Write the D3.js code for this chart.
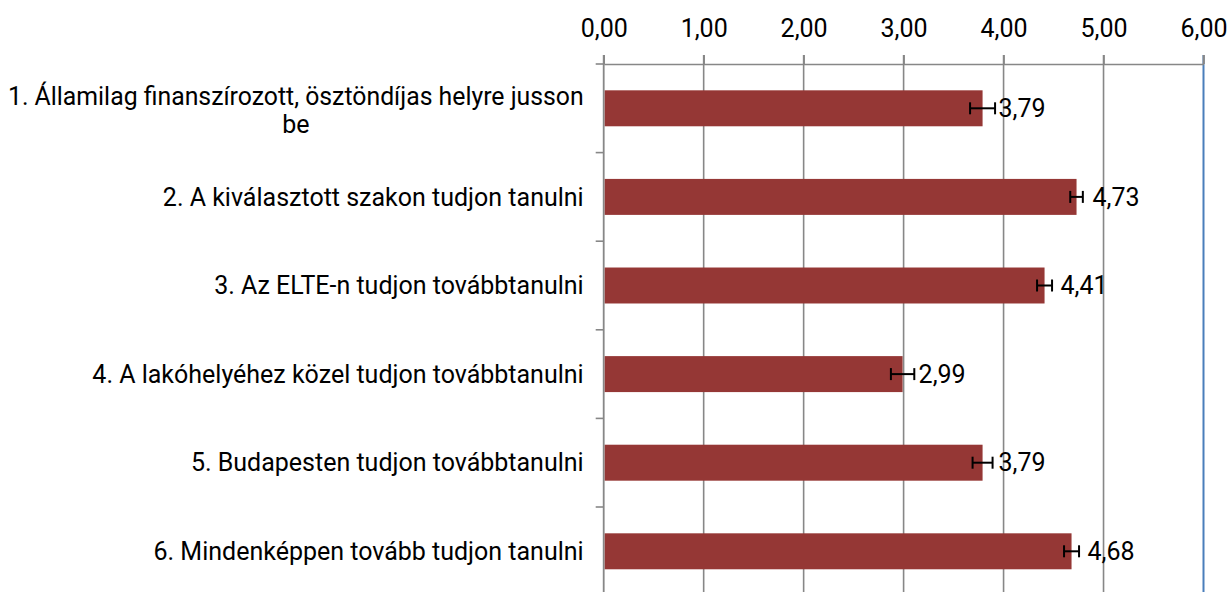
<!DOCTYPE html>
<html>
<head>
<meta charset="utf-8">
<script src="https://cdn.jsdelivr.net/npm/d3@7"></script>
<style>
  body { margin: 0; background: #fff; }
  svg { display: block; }
  text { font-family: Roboto, "Noto Sans", sans-serif; fill: #000; }
</style>
</head>
<body>
<div id="chart"></div>
<script>
// --- data ---
const categories = [
  "1. Államilag finanszírozott, ösztöndíjas helyre jusson be",
  "2. A kiválasztott szakon tudjon tanulni",
  "3. Az ELTE-n tudjon továbbtanulni",
  "4. A lakóhelyéhez közel tudjon továbbtanulni",
  "5. Budapesten tudjon továbbtanulni",
  "6. Mindenképpen tovább tudjon tanulni"
];
const means = [3.79, 4.73, 4.41, 2.99, 3.79, 4.68];
const errors = [0.125, 0.063, 0.075, 0.117, 0.10, 0.075];
const xTicks = [0, 1, 2, 3, 4, 5, 6];

const width = 1229, height = 592;
const plot = { left: 603.7, right: 1203.5, top: 64, bottom: 595.6 };
const fontSize = 25;

const huLocale = d3.formatLocale({ decimal: ",", thousands: " ", grouping: [3], currency: ["", " Ft"] });
const fmt = huLocale.format(".2f");

const rows = categories.map((c, i) => ({ cat: c, mean: means[i], err: errors[i] }));

const svg = d3.select("#chart").append("svg")
  .attr("width", width)
  .attr("height", height);

const x = d3.scaleLinear().domain([0, 6]).range([plot.left, plot.right]);
const y = d3.scaleBand().domain(categories).range([plot.top, plot.bottom]).padding(0);
const barH = y.bandwidth() * 0.406;

// --- gridlines ---
svg.append("g")
  .selectAll("line")
  .data(xTicks.slice(1, -1))
  .join("line")
  .attr("x1", d => x(d)).attr("x2", d => x(d))
  .attr("y1", plot.top - 9).attr("y2", plot.bottom)
  .attr("stroke", "#878787")
  .attr("stroke-width", 1.6);

// right border (blue)
svg.append("line")
  .attr("x1", x(6)).attr("x2", x(6))
  .attr("y1", plot.top - 9).attr("y2", plot.bottom)
  .attr("stroke", "#4a7ebb")
  .attr("stroke-width", 2);
svg.append("line")
  .attr("x1", x(6)).attr("x2", x(6))
  .attr("y1", plot.top - 9).attr("y2", plot.top)
  .attr("stroke", "#878787")
  .attr("stroke-width", 1.6);

// --- top value axis ---
const xAxis = svg.append("g")
  .attr("transform", `translate(0,${plot.top})`)
  .call(d3.axisTop(x).tickValues(xTicks).tickFormat(fmt).tickSizeInner(9).tickSizeOuter(0).tickPadding(18));
xAxis.select(".domain").attr("stroke", "#878787").attr("stroke-width", 1.6);
xAxis.selectAll(".tick line").attr("stroke", "#878787").attr("stroke-width", 1.6);
xAxis.selectAll(".tick text")
  .attr("font-family", "Roboto, 'Noto Sans', sans-serif")
  .attr("font-size", fontSize)
  .attr("fill", "#000");
xAxis.append("line")
  .attr("x1", plot.left - 8).attr("x2", plot.left)
  .attr("stroke", "#878787").attr("stroke-width", 1.6);

// --- left category axis ---
svg.append("line")
  .attr("x1", plot.left).attr("x2", plot.left)
  .attr("y1", plot.top - 9).attr("y2", plot.bottom)
  .attr("stroke", "#878787").attr("stroke-width", 1.8);
svg.append("g")
  .selectAll("line")
  .data(categories.slice(1))
  .join("line")
  .attr("x1", plot.left - 8).attr("x2", plot.left)
  .attr("y1", d => y(d)).attr("y2", d => y(d))
  .attr("stroke", "#878787").attr("stroke-width", 1.6);

// --- bars ---
svg.append("g")
  .selectAll("rect")
  .data(rows)
  .join("rect")
  .attr("x", x(0) + 1)
  .attr("y", d => y(d.cat) + y.bandwidth() / 2 - barH / 2)
  .attr("width", d => x(d.mean) - x(0) - 1)
  .attr("height", barH)
  .attr("fill", "#953735");

// --- error bars ---
const eb = svg.append("g").attr("stroke", "#000").attr("stroke-width", 2);
rows.forEach(d => {
  const cy = y(d.cat) + y.bandwidth() / 2;
  const x1 = x(d.mean - d.err), x2 = x(d.mean + d.err);
  eb.append("line").attr("x1", x1).attr("x2", x2).attr("y1", cy).attr("y2", cy);
  eb.append("line").attr("x1", x1).attr("x2", x1).attr("y1", cy - 6).attr("y2", cy + 6);
  eb.append("line").attr("x1", x2).attr("x2", x2).attr("y1", cy - 6).attr("y2", cy + 6);
});

// --- value labels ---
svg.append("g")
  .selectAll("text")
  .data(rows)
  .join("text")
  .attr("x", d => x(d.mean) + 16)
  .attr("y", d => y(d.cat) + y.bandwidth() / 2)
  .attr("dy", "0.35em")
  .attr("font-size", fontSize)
  .text(d => fmt(d.mean));

// --- category labels (wrapped, centred block, right edge near axis) ---
const labelRight = plot.left - 20;
const maxLabelW = 585;
const lineH = 28.5;
const labels = svg.append("g");
rows.forEach(d => {
  const t = labels.append("text").attr("font-size", fontSize);
  const words = d.cat.split(" ");
  const lines = [];
  let cur = [];
  words.forEach(w => {
    const test = cur.concat(w).join(" ");
    t.text(test);
    if (t.node().getComputedTextLength() > maxLabelW && cur.length) {
      lines.push(cur.join(" "));
      cur = [w];
    } else {
      cur.push(w);
    }
  });
  lines.push(cur.join(" "));
  t.text(null);
  let widest = 0;
  lines.forEach(l => { t.text(l); widest = Math.max(widest, t.node().getComputedTextLength()); });
  t.text(null);
  // long lines get squeezed a little so the block fits left of the axis
  const squeeze = widest > labelRight - 8 ? (labelRight - 8) / widest : 1;
  const cx = labelRight - widest * squeeze / 2;
  const cy = y(d.cat) + y.bandwidth() / 2 + (lines.length > 1 ? 2 : 0);
  t.attr("text-anchor", "middle");
  lines.forEach((l, i) => {
    const ts = t.append("tspan")
      .attr("x", cx)
      .attr("y", cy + (i - (lines.length - 1) / 2) * lineH)
      .attr("dy", "0.35em")
      .text(l);
    if (squeeze < 1 && i === 0) {
      ts.attr("textLength", widest * squeeze).attr("lengthAdjust", "spacingAndGlyphs");
    }
  });
});
</script>
</body>
</html>
